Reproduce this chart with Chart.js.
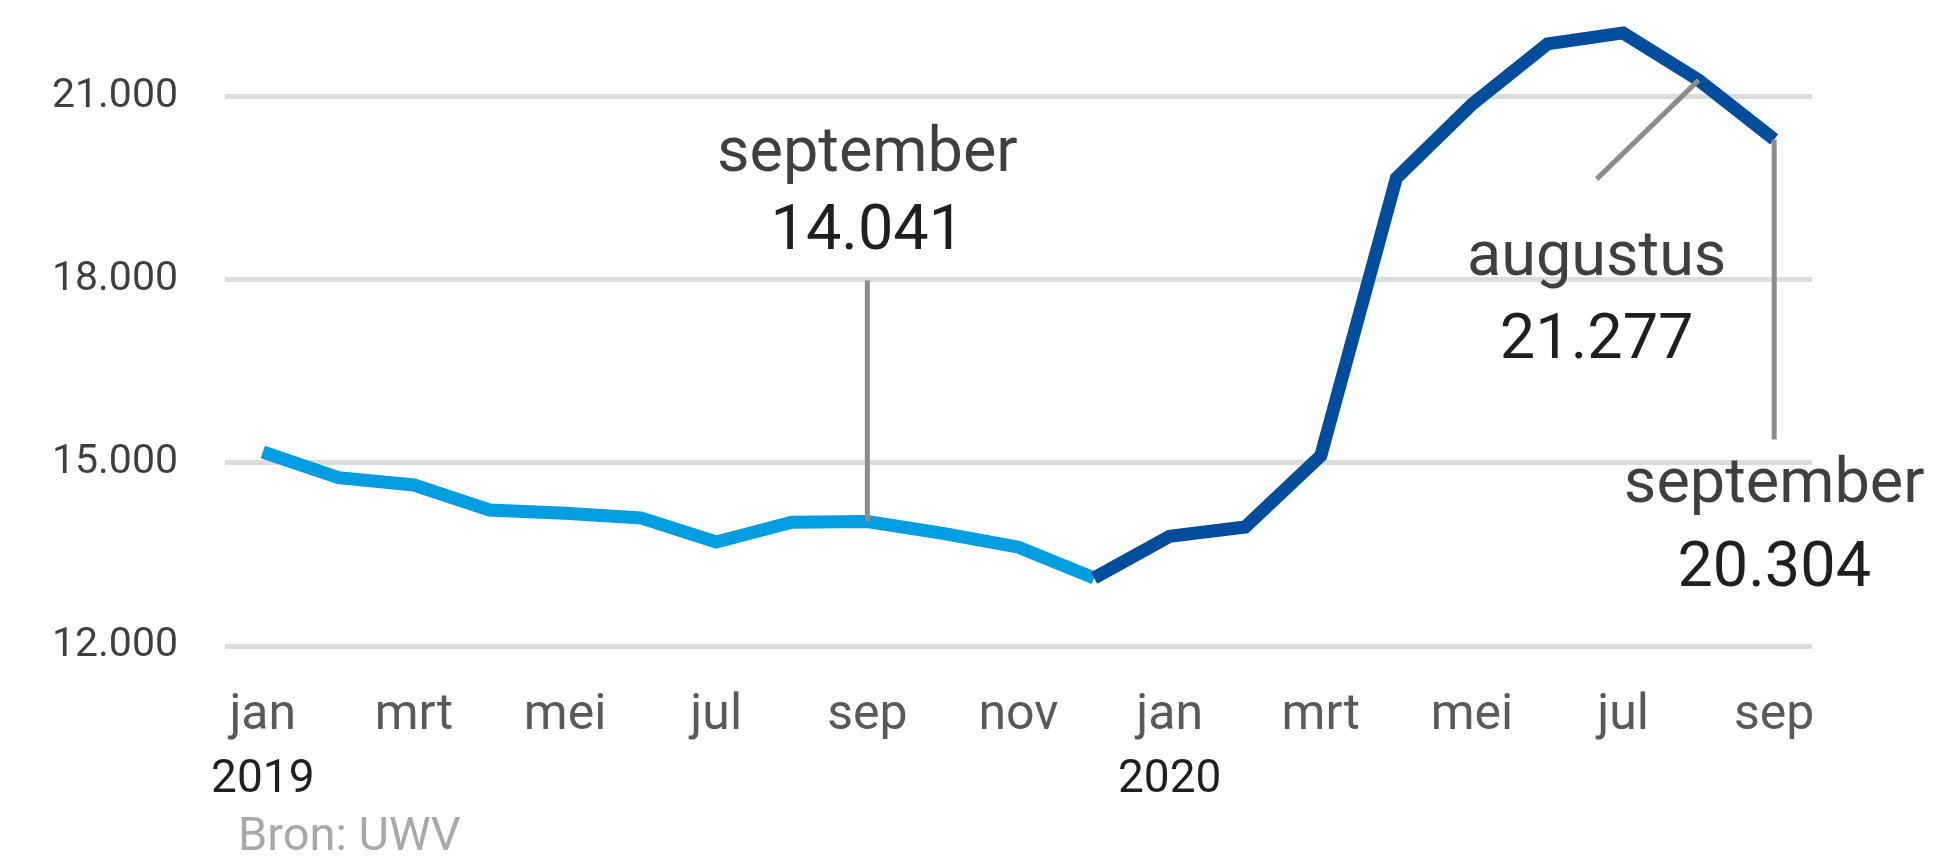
<!DOCTYPE html>
<html>
<head>
<meta charset="utf-8">
<script src="https://cdn.jsdelivr.net/npm/chart.js@4/dist/chart.umd.min.js"></script>
<style>
  html, body { margin: 0; padding: 0; background: #fff; }
  #wrap { width: 1942px; height: 856px; }
</style>
</head>
<body>
<div id="wrap"><canvas id="ww-chart"></canvas></div>
<script>
// WW-uitkeringen per maand, jan 2019 - sep 2020
const maanden = ["jan", "feb", "mrt", "apr", "mei", "jun", "jul", "aug", "sep", "okt", "nov", "dec",
                 "jan", "feb", "mrt", "apr", "mei", "jun", "jul", "aug", "sep"];
const jaren = ["2019", "", "", "", "", "", "", "", "", "", "", "",
               "2020", "", "", "", "", "", "", "", ""];
const uitkeringen = [15180, 14760, 14640, 14230, 14175, 14100, 13705, 14030, 14041, 13845, 13620, 13115,
                     13800, 13950, 15120, 19670, 20880, 21870, 22050, 21277, 20304];
const yTicks = [12000, 15000, 18000, 21000];
const bron = "Bron: UWV";

// punten met een toelichting
const toelichting = [
  { index: 8, naam: "september" },
  { index: 19, naam: "augustus" },
  { index: 20, naam: "september" },
];

// plaats van lijntjes en teksten (pixels t.o.v. het punt)
const plaatsing = [
  { dx: 0, dy: -241, naamDy: -109, getalDy: -31 },
  { dx: -102, dy: 99, naamDy: 96, getalDy: 179 },
  { dx: 0, dy: 300, naamDy: 63, getalDy: 147 },
];

const licht = "#009de0",
  donker = "#004c9d",
  lettertype = "Roboto",
  punten = (v) => String(v).replace(/\B(?=(\d{3})+(?!\d))/g, ".");

const annotaties = {
  id: "annotaties",
  afterDatasetsDraw(chart) {
    const ctx = chart.ctx,
      meta = chart.getDatasetMeta(0),
      x = chart.scales.x;
    ctx.save();
    toelichting.forEach((t, i) => {
      const p = meta.data[t.index],
        pl = plaatsing[i],
        ex = p.x + pl.dx,
        ey = p.y + pl.dy;
      ctx.strokeStyle = "#8c8c8c";
      ctx.lineWidth = 5;
      ctx.beginPath();
      ctx.moveTo(p.x, p.y);
      ctx.lineTo(ex, ey);
      ctx.stroke();
      ctx.textAlign = "center";
      ctx.textBaseline = "alphabetic";
      ctx.font = `63px ${lettertype}`;
      ctx.fillStyle = "#3f3f3f";
      ctx.fillText(t.naam, ex, ey + pl.naamDy);
      ctx.fillStyle = "#1f1f1f";
      ctx.fillText(punten(uitkeringen[t.index]), ex, ey + pl.getalDy);
    });
    // jaartallen onder de maanden
    ctx.font = `46px ${lettertype}`;
    ctx.fillStyle = "#1f1f1f";
    jaren.forEach((j, i) => {
      if (j) ctx.fillText(j, x.getPixelForValue(i), 792);
    });
    // bron
    ctx.textAlign = "left";
    ctx.font = `47px ${lettertype}`;
    ctx.fillStyle = "#a8a8a8";
    ctx.fillText(bron, 238, 850);
    ctx.restore();
  },
};

new Chart(document.getElementById("ww-chart"), {
  type: "line",
  data: {
    labels: maanden,
    datasets: [
      {
        data: uitkeringen,
        borderColor: licht,
        borderWidth: 13,
        pointRadius: 0,
        tension: 0,
        segment: {
          borderColor: (c) => (c.p0DataIndex >= 11 ? donker : licht),
        },
      },
    ],
  },
  options: {
    responsive: true,
    maintainAspectRatio: false,
    animation: false,
    devicePixelRatio: 1,
    layout: { padding: { left: 0, right: 130, top: 0, bottom: 0 } },
    plugins: { legend: { display: false }, tooltip: { enabled: false } },
    scales: {
      x: {
        offset: true,
        grid: { display: false, drawTicks: false },
        border: { display: false },
        afterFit: (s) => {
          s.height = 210;
          s.paddingLeft = 0;
          s.paddingRight = 0;
        },
        ticks: {
          autoSkip: false,
          maxRotation: 0,
          padding: 40,
          color: "#595959",
          font: { family: lettertype, size: 50 },
          callback: (v, i) => (i % 2 === 0 ? maanden[i] : ""),
        },
      },
      y: {
        min: 12000,
        max: 22590,
        afterBuildTicks: (s) => {
          s.ticks = yTicks.map((v) => ({ value: v }));
        },
        afterFit: (s) => {
          s.width = 225;
          s.paddingTop = 0;
          s.paddingBottom = 0;
        },
        grid: { color: "#dcdcdc", lineWidth: 5, drawTicks: false },
        border: { display: false },
        ticks: {
          padding: 47,
          color: "#3f3f3f",
          font: { family: lettertype, size: 41 },
          callback: (v) => punten(v),
        },
      },
    },
  },
  plugins: [annotaties],
});
</script>
</body>
</html>
